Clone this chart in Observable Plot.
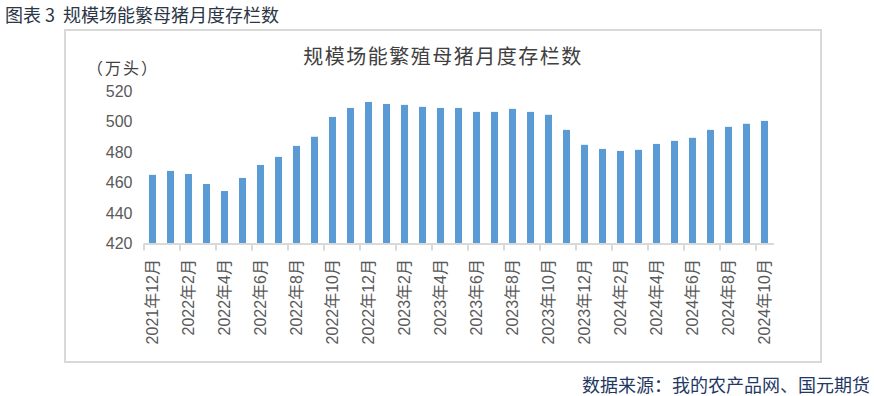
<!DOCTYPE html>
<html>
<head>
<meta charset="utf-8">
<script src="https://cdn.jsdelivr.net/npm/d3@7"></script>
<script src="https://cdn.jsdelivr.net/npm/@observablehq/plot@0.6"></script>
<style>
  html, body { margin: 0; padding: 0; background: #fff; }
  #wrap { position: relative; width: 874px; height: 396px; overflow: hidden; font-family: "Noto Sans CJK SC", "Liberation Sans", sans-serif; }
  #title { position: absolute; left: 5px; top: 5px; font-size: 18px; line-height: 18px; font-weight: 400; color: #2b3646; white-space: nowrap; }
  #box { position: absolute; left: 64px; top: 29px; width: 758px; height: 334px; box-sizing: border-box; border: 2px solid #d9d9d9; }
  #chart { position: absolute; left: 0; top: 0; }
  #subtitle { position: absolute; left: 0; width: 886px; top: 46px; text-align: center; font-size: 20px; line-height: 20px; letter-spacing: 1.5px; color: #404040; white-space: nowrap; }
  #unit { position: absolute; left: 87px; top: 59px; font-size: 16px; line-height: 16px; letter-spacing: 2px; color: #404040; white-space: nowrap; }
  #footer { position: absolute; right: 4px; top: 375px; font-size: 18px; line-height: 18px; color: #1f3864; white-space: nowrap; }
</style>
</head>
<body>
<div id="wrap">
  <div id="title">图表 3&nbsp; 规模场能繁母猪月度存栏数</div>
  <div id="box"></div>
  <div id="chart"></div>
  <div id="subtitle">规模场能繁殖母猪月度存栏数</div>
  <div id="unit">（万头）</div>
  <div id="footer">数据来源：我的农产品网、国元期货</div>
</div>
<script>
const months = [
  "2021年12月",
  "2022年1月","2022年2月","2022年3月","2022年4月","2022年5月","2022年6月",
  "2022年7月","2022年8月","2022年9月","2022年10月","2022年11月","2022年12月",
  "2023年1月","2023年2月","2023年3月","2023年4月","2023年5月","2023年6月",
  "2023年7月","2023年8月","2023年9月","2023年10月","2023年11月","2023年12月",
  "2024年1月","2024年2月","2024年3月","2024年4月","2024年5月","2024年6月",
  "2024年7月","2024年8月","2024年9月","2024年10月"
];
const values = [
  465,
  467.6, 465.6, 459, 454.4, 463, 471.5,
  476.8, 484, 490, 503, 508.9, 512.8,
  511.5, 510.9, 509.6, 508.9, 508.9, 506.3,
  506.3, 508.3, 506.3, 504.4, 494.5, 484.7,
  482, 480.7, 481.4, 485.3, 487.3, 489.3,
  494.5, 496.5, 498.5, 500.4
];
const yTicks = [420, 440, 460, 480, 500, 520];
const labelMonths = months.filter((d, i) => i % 2 === 0);

const data = months.map((m, i) => ({month: m, value: values[i]}));

const W = 874, H = 362, ML = 144, MR = 100, MT = 91, MB = 118.5;
const step = (W - ML - MR) / months.length;

const plot = Plot.plot({
  width: W,
  height: H,
  marginLeft: ML,
  marginRight: MR,
  marginTop: MT,
  marginBottom: MB,
  style: {background: "transparent", overflow: "visible"},
  x: {domain: months, paddingInner: 0.6, paddingOuter: 0.3, label: null},
  y: {domain: [yTicks[0], yTicks[yTicks.length - 1]], label: null},
  marks: [
    Plot.barY(data, {x: "month", y1: yTicks[0], y2: "value", fill: "#5b9bd5"}),
    Plot.ruleY([yTicks[0]], {stroke: "#d9d9d9", strokeWidth: 2}),
    Plot.axisX({ticks: labelMonths, tickSize: 7, tickFormat: () => "", dx: -step / 2, stroke: "#d9d9d9", strokeWidth: 2, strokeOpacity: 1, label: null}),
    Plot.axisX({ticks: labelMonths, tickSize: 0, tickPadding: 15, tickRotate: -90, fontSize: 16, fill: "#595959", label: null, fontFamily: "Liberation Sans, Noto Sans CJK SC, sans-serif"}),
    Plot.axisY({ticks: yTicks, tickSize: 0, tickPadding: 12, fontSize: 16, fill: "#595959", label: null, fontFamily: "Liberation Sans, sans-serif"})
  ]
});
document.getElementById("chart").appendChild(plot);
</script>
</body>
</html>
